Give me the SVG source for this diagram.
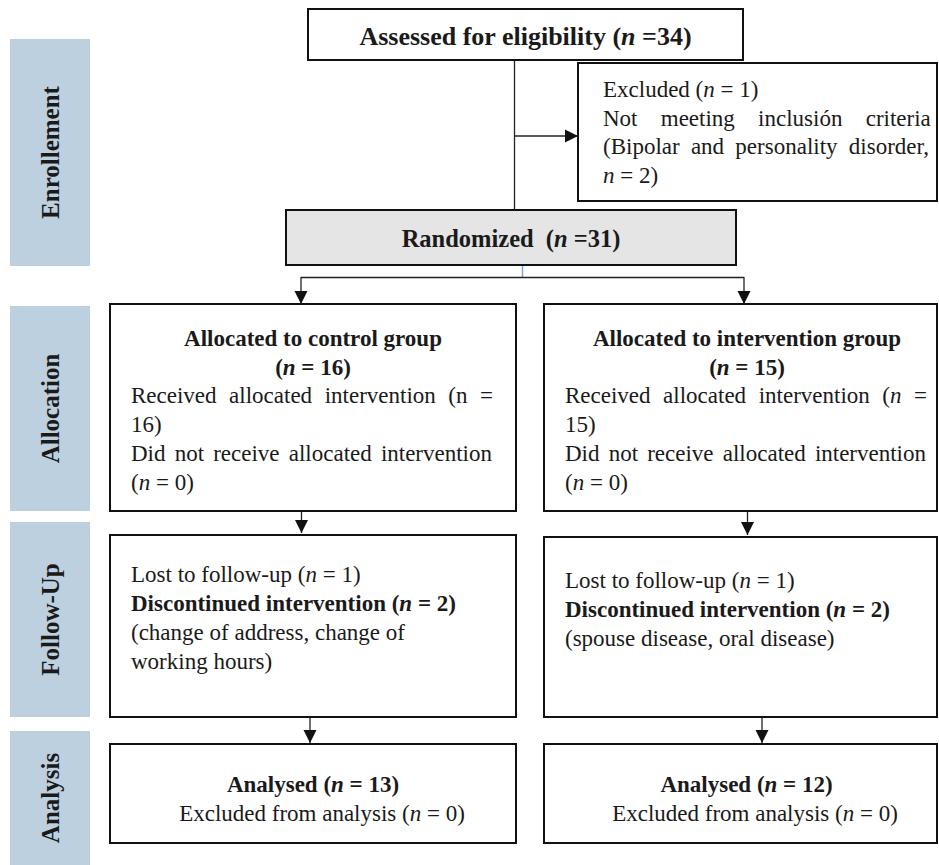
<svg xmlns="http://www.w3.org/2000/svg" width="939" height="865" viewBox="0 0 939 865">
<style>
.t{font-family:"Liberation Serif","Times New Roman",serif;font-size:23px;fill:#1a1a1a}
.b{font-weight:bold}
.i{font-style:italic}
.ttl{font-size:26px}
.lab{font-family:"Liberation Serif","Times New Roman",serif;font-size:25px;font-weight:bold;fill:#1a1a1a}
.box{fill:#fff;stroke:#111;stroke-width:2}
.gray{fill:#e5e5e5}
.side{fill:#bdd0df}
.ln{fill:none;stroke:#222;stroke-width:1.3}
.blue{fill:none;stroke:#7aa3dc;stroke-width:1.5}
</style>
<defs>
<marker id="ah" markerUnits="userSpaceOnUse" markerWidth="14" markerHeight="14" viewBox="0 0 14 14" refX="13" refY="7" orient="auto">
<path d="M0,0.5 L13,7 L0,13.5 z" fill="#111"/>
</marker>
</defs>
<rect width="939" height="865" fill="#fff"/>

<g id="side-enrollement"><rect class="side" x="10" y="39" width="80" height="227"/><text class="lab" transform="translate(58.5,152.5) rotate(-90)" text-anchor="middle">Enrollement</text></g>
<g id="side-allocation"><rect class="side" x="10" y="306" width="80" height="205"/><text class="lab" transform="translate(58.5,408.5) rotate(-90)" text-anchor="middle">Allocation</text></g>
<g id="side-followup"><rect class="side" x="10" y="522" width="80" height="195"/><text class="lab" transform="translate(58.5,619.5) rotate(-90)" text-anchor="middle">Follow-Up</text></g>
<g id="side-analysis"><rect class="side" x="10" y="731" width="80" height="140"/><text class="lab" transform="translate(58.5,798) rotate(-90)" text-anchor="middle">Analysis</text></g>

<g id="connectors">
<line class="ln" x1="514.5" y1="60" x2="514.5" y2="210"/>
<line class="ln" x1="514.5" y1="136" x2="578" y2="136" marker-end="url(#ah)"/>
<line class="blue" x1="522.5" y1="265" x2="522.5" y2="277.5"/>
<line class="ln" x1="301" y1="277.5" x2="744" y2="277.5"/>
<line class="ln" x1="301" y1="277" x2="301" y2="304" marker-end="url(#ah)"/>
<line class="ln" x1="744" y1="277" x2="744" y2="304" marker-end="url(#ah)"/>
<line class="ln" x1="301.5" y1="511" x2="301.5" y2="533" marker-end="url(#ah)"/>
<line class="ln" x1="747.5" y1="511" x2="747.5" y2="535" marker-end="url(#ah)"/>
<line class="ln" x1="310" y1="717" x2="310" y2="743" marker-end="url(#ah)"/>
<line class="ln" x1="762" y1="717" x2="762" y2="743" marker-end="url(#ah)"/>
</g>

<g id="assessed"><rect class="box" x="308" y="9" width="435" height="51"/>
<text class="t b ttl" x="525.5" y="45" text-anchor="middle">Assessed for eligibility (<tspan class="i">n</tspan> =34)</text></g>

<g id="excluded"><rect class="box" x="578" y="63" width="359" height="138"/>
<text class="t" x="603" y="97">Excluded (<tspan class="i">n</tspan> = 1)</text>
<text class="t" x="603" y="125.7" word-spacing="17.5">Not meeting inclusión criteria</text>
<text class="t" x="603" y="154.4" word-spacing="5.5">(Bipolar and personality disorder,</text>
<text class="t" x="603" y="183.1"><tspan class="i">n</tspan> = 2)</text></g>

<g id="randomized"><rect class="box gray" x="286" y="210" width="450" height="55"/>
<text class="t b" style="font-size:24.5px" x="511" y="247" text-anchor="middle">Randomized <tspan dx="6">(</tspan><tspan class="i">n</tspan> =31)</text></g>

<g id="alloc-control"><rect class="box" x="110" y="304" width="406" height="207"/>
<text class="t b" x="313" y="346" text-anchor="middle">Allocated to control group</text>
<text class="t b" x="313" y="374.7" text-anchor="middle">(<tspan class="i">n</tspan> = 16)</text>
<text class="t" x="131" y="403.4" word-spacing="6.8">Received allocated intervention (n =</text>
<text class="t" x="131" y="432.1">16)</text>
<text class="t" x="131" y="460.8" word-spacing="3.4">Did not receive allocated intervention</text>
<text class="t" x="131" y="489.5">(<tspan class="i">n</tspan> = 0)</text></g>

<g id="alloc-intervention"><rect class="box" x="544" y="304" width="393" height="207"/>
<text class="t b" x="747" y="346" text-anchor="middle">Allocated to intervention group</text>
<text class="t b" x="747" y="374.7" text-anchor="middle">(<tspan class="i">n</tspan> = 15)</text>
<text class="t" x="565" y="403.4" word-spacing="6.8">Received allocated intervention (<tspan class="i">n</tspan> =</text>
<text class="t" x="565" y="432.1">15)</text>
<text class="t" x="565" y="460.8" word-spacing="3.4">Did not receive allocated intervention</text>
<text class="t" x="565" y="489.5">(<tspan class="i">n</tspan> = 0)</text></g>

<g id="followup-control"><rect class="box" x="110" y="535" width="406" height="182"/>
<text class="t" x="131" y="582">Lost to follow-up (<tspan class="i">n</tspan> = 1)</text>
<text class="t b" x="131" y="611">Discontinued intervention (<tspan class="i">n</tspan> = 2)</text>
<text class="t" x="131" y="640">(change of address, change of</text>
<text class="t" x="131" y="669">working hours)</text></g>

<g id="followup-intervention"><rect class="box" x="544" y="537" width="393" height="180"/>
<text class="t" x="565" y="588">Lost to follow-up (<tspan class="i">n</tspan> = 1)</text>
<text class="t b" x="565" y="617">Discontinued intervention (<tspan class="i">n</tspan> = 2)</text>
<text class="t" x="565" y="646">(spouse disease, oral disease)</text></g>

<g id="analysis-control"><rect class="box" x="110" y="744" width="406" height="99"/>
<text class="t b" x="313" y="792" text-anchor="middle">Analysed (<tspan class="i">n</tspan> = 13)</text>
<text class="t" x="322" y="821" text-anchor="middle">Excluded from analysis (<tspan class="i">n</tspan> = 0)</text></g>

<g id="analysis-intervention"><rect class="box" x="544" y="744" width="393" height="99"/>
<text class="t b" x="746.5" y="792" text-anchor="middle">Analysed (<tspan class="i">n</tspan> = 12)</text>
<text class="t" x="755" y="821" text-anchor="middle">Excluded from analysis (<tspan class="i">n</tspan> = 0)</text></g>
</svg>
